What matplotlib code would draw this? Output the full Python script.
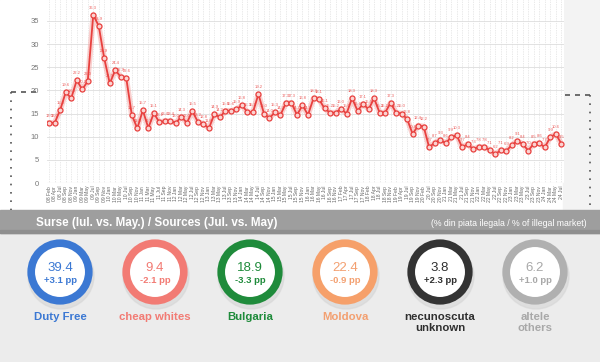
import matplotlib.pyplot as plt
from matplotlib.patches import Circle, Rectangle

plt.rcParams["font.family"] = ["Liberation Sans", "DejaVu Sans"]

# share of illegal cigarettes (%), one value per survey wave
values = [
    13.0, 13.0, 15.8, 19.6, 18.3, 22.2, 20.2, 22.0, 36.3, 33.9,
    26.9, 21.5, 24.4, 22.9, 22.6, 14.7, 11.8, 15.7, 11.9, 15.1,
    13.1, 13.4, 13.4, 13.0, 14.3, 13.0, 15.5, 13.2,
    12.8, 11.8, 14.9, 14.2, 15.6, 15.6, 15.9, 16.8, 15.3, 15.3,
    19.2, 15.0, 14.0, 15.3, 14.7, 17.3, 17.3, 14.7, 16.8, 14.7,
    18.3, 18.1, 16.1, 15.2, 15.2, 16.0, 15.0, 18.3, 15.6, 17.1,
    15.9, 18.3, 15.2, 15.2, 17.3, 15.2,
    15.0, 13.8, 10.6, 12.4, 12.2, 7.7, 8.7, 9.3, 8.6, 9.9,
    10.3, 7.7, 8.4, 7.3, 7.8, 7.8, 7.1, 6.2, 7.1, 6.9,
    8.2, 9.1, 8.4, 7.0, 8.5, 8.6, 7.7, 9.9, 10.6, 8.5,
]

dates = [
    "08 Feb", "08 Apr", "08 Jul", "08 Sep", "08 Nov",
    "09 Jan", "09 Mar", "09 May", "09 Jul", "09 Sep", "09 Nov",
    "10 Jan", "10 Mar", "10 May", "10 Jul", "10 Sep", "10 Nov",
    "11 Jan", "11 Mar", "11 May", "11 Jul", "11 Sep", "11 Nov",
    "12 Jan", "12 Mar", "12 May", "12 Jul", "12 Sep", "12 Nov",
    "13 Jan", "13 Mar", "13 May", "13 Jul", "13 Sep", "13 Nov",
    "14 Jan", "14 Mar", "14 May", "14 Jul", "14 Sep", "14 Nov",
    "15 Jan", "15 Mar", "15 May", "15 Jul", "15 Sep", "15 Nov",
    "16 Jan", "16 Mar", "16 May", "16 Jul", "16 Sep", "16 Nov",
    "17 Feb", "17 Apr", "17 Jul", "17 Sep", "17 Nov",
    "18 Feb", "18 Apr", "18 Jul", "18 Sep", "18 Nov",
    "19 Feb", "19 Apr", "19 Jul", "19 Sep", "19 Nov",
    "20 Feb", "20 Jul", "20 Sep", "20 Nov",
    "21 Jan", "21 Mar", "21 May", "21 Jul", "21 Sep", "21 Nov",
    "22 Jan", "22 Mar", "22 May", "22 Jul", "22 Sep", "22 Nov",
    "23 Jan", "23 Mar", "23 May", "23 Jul", "23 Sep", "23 Nov",
    "24 Jan", "24 Mar", "24 May", "24 Jul",
]

sources = ["Duty Free", "cheap whites", "Bulgaria", "Moldova", "necunoscuta\nunknown", "altele\nothers"]
shares = [39.4, 9.4, 18.9, 22.4, 3.8, 6.2]
changes = ["+3.1 pp", "-2.1 pp", "-3.3 pp", "-0.9 pp", "+2.3 pp", "+1.0 pp"]
ring_colors = ["#3b78d3", "#f27b74", "#1f8b3b", "#f6a06a", "#333333", "#b0b0b0"]
text_colors = ["#3b78d3", "#f27b74", "#1f8b3b", "#f3a071", "#2f2f2f", "#a8a8a8"]

fig = plt.figure(figsize=(6, 3.62), dpi=100)
fig.patch.set_facecolor("#ececec")

# decoration layer in pixel coordinates
bg = fig.add_axes([0, 0, 1, 1], zorder=0)
bg.set_xlim(0, 600)
bg.set_ylim(362, 0)
bg.axis("off")
bg.add_patch(Rectangle((0, 0), 563, 210, color="white"))
bg.add_patch(Rectangle((563, 0), 37, 210, color="#f3f3f3"))
bg.add_patch(Rectangle((0, 210), 600, 23, color="#9e9e9e"))
bg.add_patch(Rectangle((0, 230), 600, 3, color="#8f8f8f"))
bg.plot([11, 36], [92, 92], color="#555555", lw=1.2, ls=(0, (3, 3)))
bg.plot([11, 11], [92, 210], color="#555555", lw=1.2, ls=(0, (1, 4)))
bg.plot([565, 590], [95, 95], color="#555555", lw=1.2, ls=(0, (3, 3)))
bg.plot([590, 590], [95, 210], color="#555555", lw=1.2, ls=(0, (1, 4)))
bg.text(36, 223, "Surse (Iul. vs. May.) / Sources (Jul. vs. May)", color="white",
        fontsize=8.4, fontweight="bold", va="center", ha="left")
bg.text(587, 224, "(% din piata ilegala / % of illegal market)", color="white",
        fontsize=6.3, va="center", ha="right")

for i in range(len(sources)):
    cx = 60 + 95 * i
    cy = 272
    bg.add_patch(Circle((cx + 1, cy + 4), 33, color="#d6d6d6", alpha=0.6))
    bg.add_patch(Circle((cx, cy), 28.8, facecolor="white", edgecolor=ring_colors[i], lw=5.5))
    bg.text(cx, cy - 4, f"{shares[i]:.1f}", color=text_colors[i], fontsize=9.5,
            ha="center", va="center")
    bg.text(cx, cy + 8.5, changes[i], color=text_colors[i], fontsize=6.8,
            fontweight="bold", ha="center", va="center")
    bg.text(cx, 312, sources[i], color=text_colors[i], fontsize=8.2,
            fontweight="bold", ha="center", va="top", linespacing=1.1)

# line chart
ax = fig.add_axes([47 / 600, (362 - 183) / 362, 516.5 / 600, 185.2 / 362], zorder=1)
ax.set_facecolor("white")
x = list(range(len(values)))
ax.plot(x, values, color="#f5a3a1", lw=4, alpha=0.5, zorder=2)
ax.plot(x, values, color="#e8403e", lw=1.3, marker="o", markersize=3.6,
        mfc="#fbd3d1", mec="#e8403e", mew=0.9, zorder=3)
for i, v in enumerate(values):
    ax.text(i, v + 1.1, f"{v:.1f}", color="#e8403e", fontsize=3.0,
            ha="center", va="bottom", alpha=0.85)

ax.set_xlim(-0.4, len(values) - 0.6)
ax.set_ylim(0, 40)
ax.set_yticks(range(0, 41, 5))
ax.set_xticks(x)
ax.set_xticklabels(dates, rotation=90, fontsize=3.6, color="#666666")
ax.tick_params(axis="y", labelsize=5.5, colors="#777777", length=0, pad=6)
ax.tick_params(axis="x", length=0, pad=2)
ax.grid(axis="x", color="#d4d4d4", lw=0.5, ls=(0, (1, 1.5)))
ax.grid(axis="y", color="#dddddd", lw=0.6)
for s in ax.spines.values():
    s.set_visible(False)
ax.axhline(0, color="#cccccc", lw=0.8)

fig.savefig("out.png", dpi=100, facecolor=fig.get_facecolor())
